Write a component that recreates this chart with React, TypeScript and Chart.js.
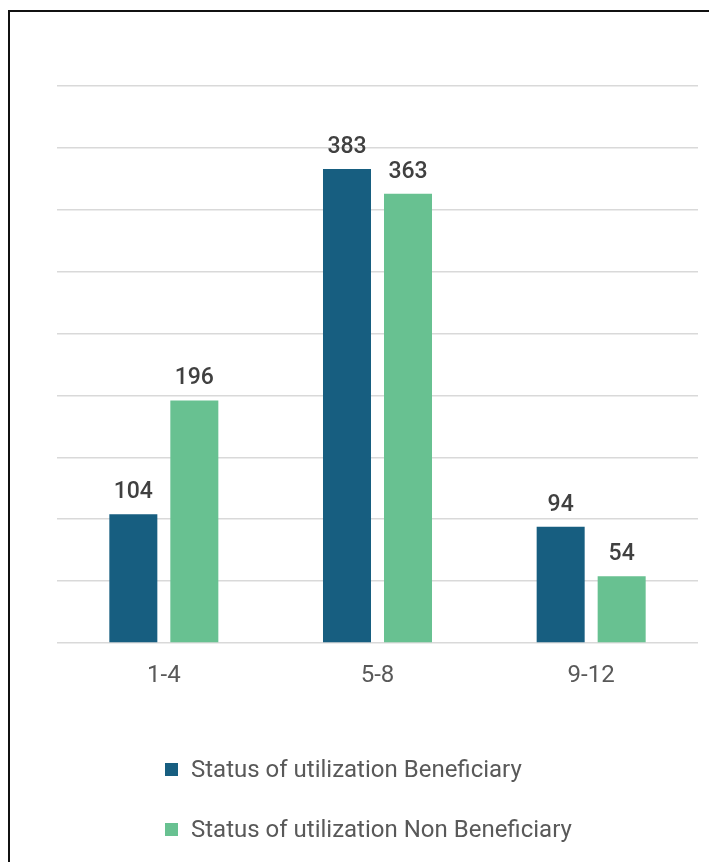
import React, { useEffect, useRef } from "react";
import { Chart, registerables } from "chart.js";

Chart.register(...registerables);

const categories = ["1-4", "5-8", "9-12"];
const beneficiary = [104, 383, 94];
const nonBeneficiary = [196, 363, 54];
const seriesNames = [
  "Status of utilization Beneficiary",
  "Status of utilization Non Beneficiary",
];
const seriesColors = ["#175E80", "#68C191"];

const FONT = "Roboto, 'Noto Sans', sans-serif";

// Value labels above each bar
const valueLabels = {
  id: "valueLabels",
  afterDatasetsDraw(chart: any) {
    const ctx = chart.ctx;
    ctx.save();
    ctx.font = `500 23px ${FONT}`;
    ctx.fillStyle = "#404040";
    ctx.textAlign = "center";
    ctx.textBaseline = "alphabetic";
    chart.data.datasets.forEach((ds: any, i: number) => {
      const meta = chart.getDatasetMeta(i);
      meta.data.forEach((el: any, j: number) => {
        ctx.fillText(String(ds.data[j]), el.x, el.y - 16);
      });
    });
    ctx.restore();
  },
};

// Vertical legend, one series per row, left-aligned
const stackedLegend = {
  id: "stackedLegend",
  afterDraw(chart: any) {
    const ctx = chart.ctx;
    const left = 155;
    const top = 751;
    const rowGap = 60;
    const box = 13;
    ctx.save();
    ctx.font = `400 24px ${FONT}`;
    ctx.textBaseline = "middle";
    ctx.textAlign = "left";
    chart.data.datasets.forEach((ds: any, i: number) => {
      const y = top + i * rowGap;
      ctx.fillStyle = ds.backgroundColor;
      ctx.fillRect(left, y, box, box);
      ctx.fillStyle = "#595959";
      ctx.fillText(ds.label, left + box + 13, y + box / 2 + 1);
    });
    ctx.restore();
  },
};

export default function App() {
  const ref = useRef<HTMLCanvasElement | null>(null);

  useEffect(() => {
    if (!ref.current) return;
    const chart = new Chart(ref.current, {
      type: "bar",
      data: {
        labels: categories,
        datasets: [
          {
            label: seriesNames[0],
            data: beneficiary,
            backgroundColor: seriesColors[0],
          },
          {
            label: seriesNames[1],
            data: nonBeneficiary,
            backgroundColor: seriesColors[1],
          },
        ],
      },
      options: {
        animation: false,
        responsive: false,
        devicePixelRatio: 1,
        layout: { padding: { left: 47, right: 11, top: 74, bottom: 149 } },
        datasets: {
          bar: { categoryPercentage: 0.571, barPercentage: 0.787 },
        },
        plugins: {
          legend: { display: false },
          tooltip: { enabled: false },
        },
        scales: {
          x: {
            grid: { display: false },
            border: { display: false },
            ticks: {
              color: "#595959",
              font: { family: FONT, size: 24, weight: "400" },
              padding: 11,
            },
            afterFit: (scale: any) => {
              scale.height = 60;
            },
          },
          y: {
            min: 0,
            max: 450,
            ticks: { display: false, stepSize: 50 },
            grid: { color: "#D9D9D9", lineWidth: 1.5, drawTicks: false },
            border: { display: false },
            afterFit: (scale: any) => {
              scale.width = 0;
            },
          },
        },
      },
      plugins: [valueLabels, stackedLegend],
    });
    return () => chart.destroy();
  }, []);

  return (
    <div
      style={{
        position: "fixed",
        left: 0,
        top: 0,
        right: 0,
        bottom: 0,
        overflow: "hidden",
        background: "#fff",
      }}
    >
      <div
        style={{
          position: "absolute",
          left: 8,
          top: 10,
          width: 720,
          height: 880,
          border: "2px solid #111",
          background: "#fff",
        }}
      >
        <canvas ref={ref} width={699} height={840} style={{ display: "block" }} />
      </div>
    </div>
  );
}
